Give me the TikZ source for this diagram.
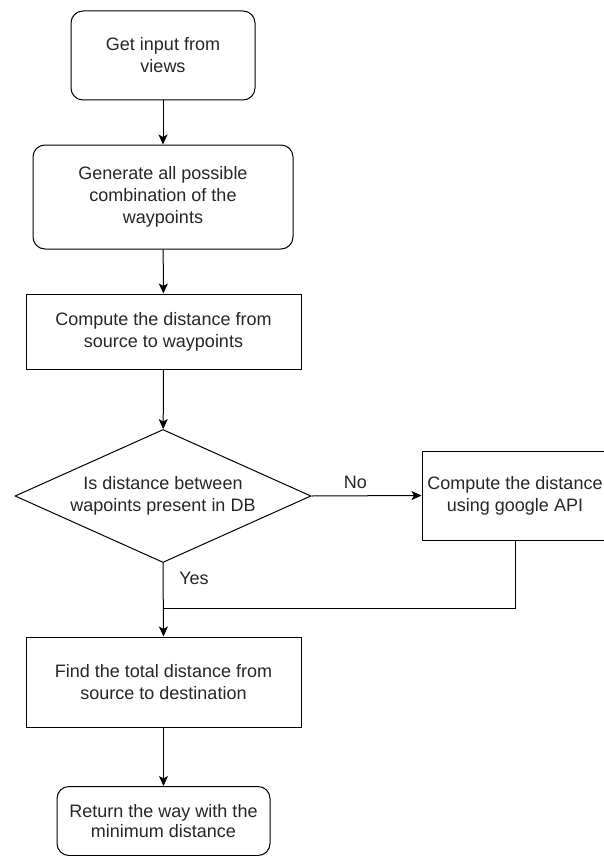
\documentclass[tikz,border=0pt]{standalone}
\usepackage{fontspec}
\setmainfont{Liberation Sans}
\usetikzlibrary{shapes.geometric,arrows.meta}
\begin{document}
\begin{tikzpicture}[x=1pt,y=-1pt,
  font=\fontsize{18}{22}\selectfont,
  every node/.style={align=center, text=black!85, inner sep=0pt},
  proc/.style={draw, line width=1pt, rectangle},
  term/.style={proc, rounded corners=12pt},
  decision/.style={draw, line width=1pt, diamond, aspect=2.2},
  flow/.style={line width=1pt, -{Stealth[length=10pt,width=9pt,inset=2.5pt]}},
  joinline/.style={line width=1pt},
  lbl/.style={font=\fontsize{18}{22}\selectfont}]
  \clip (0,0) rectangle (604,856);
  \fill[white] (0,0) rectangle (604,856);

  % process steps
  \node[term, minimum width=184pt, minimum height=89pt] (input) at (163,55.5)
    {Get input from\\views};
  \node[term, minimum width=260pt, minimum height=104pt] (combos) at (163,197)
    {Generate all possible\\combination of the\\waypoints};
  \node[proc, minimum width=275pt, minimum height=75pt] (srcdist) at (163.5,331.5)
    {Compute the distance from\\source to waypoints};
  \node[decision, minimum width=296pt, minimum height=133pt] (indb) at (163,496)
    {Is distance between\\wapoints present in DB};
  \node[proc, minimum width=186pt, minimum height=89pt] (api) at (515,495.5)
    {Compute the distance\\using google API};
  \node[proc, minimum width=275pt, minimum height=90pt] (total) at (163.5,682)
    {Find the total distance from\\source to destination};
  \node[term, minimum width=213pt, minimum height=69pt, anchor=north] (result) at (163.5,786)
    {\raisebox{-9pt}{\shortstack{Return the way with the\\minimum distance}}};

  % merge point below the decision
  \coordinate (merge) at (indb.south |- 0,608);

  % connectors
  \draw[flow] (input) -- (combos);
  \draw[flow] (combos) -- (srcdist);
  \draw[flow] (srcdist) -- (indb);
  \draw[flow] (indb.east) -- node[lbl, above=7pt, xshift=-11pt] {No} (api.west);
  \draw[flow] (indb.south) -- (total.north);
  \draw[joinline] (api.south) |- (merge);
  \node[lbl] (yes) at (194,578) {Yes};
  \draw[flow] (total) -- (result);
\end{tikzpicture}
\end{document}
